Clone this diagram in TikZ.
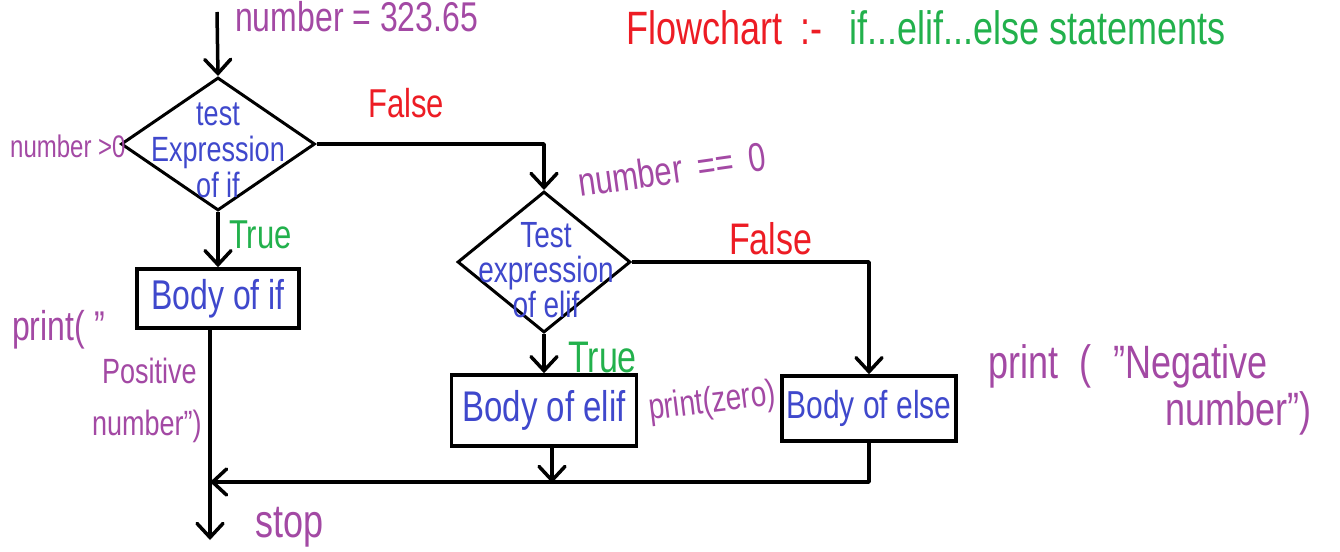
\documentclass[tikz,border=0pt]{standalone}
\usepackage{fontspec}
\setmainfont{Liberation Sans}
\usetikzlibrary{arrows.meta,shapes.geometric}
\definecolor{hwpurple}{RGB}{163,73,164}
\definecolor{hwblue}{RGB}{63,72,204}
\definecolor{hwred}{RGB}{237,28,36}
\definecolor{hwgreen}{RGB}{34,177,76}
\newcommand\hw[1]{\scalebox{1}[1.3]{#1}}
\newcommand\fs[1]{\fontsize{#1}{#1}\selectfont}
\tikzset{
  conn/.style={line width=3.5pt, line join=round},
  arr/.style={conn, -{Straight Barb[length=14pt,width=26pt,line cap=round]}},
  bodybox/.style={draw, line width=3.5pt, rectangle, inner sep=0pt, text=hwblue},
  decision/.style={draw, line width=3pt, diamond, inner sep=0pt},
  dtext/.style={inner sep=0pt, align=center, text=hwblue},
  lbl/.style={inner sep=0pt, anchor=base west},
}
\begin{document}
\begin{tikzpicture}[x=1pt,y=-1pt]
\useasboundingbox (0,0) rectangle (1340,551);
\fill[white] (0,0) rectangle (1340,551);

% decisions
\node[decision, minimum width=194pt, minimum height=133pt] (d1) at (218,144) {};
\node[dtext, font=\fontsize{27}{36}\selectfont] (d1t) at (218,150) {\hw{test}\\\hw{Expression}\\\hw{of if}};
\node[decision, minimum width=173pt, minimum height=141pt] (d2) at (544,262) {};
\node[dtext, font=\fontsize{28}{35}\selectfont] (d2t) at (546,270) {\hw{Test}\\\hw{expression}\\\hw{of elif}};

% bodies
\node[bodybox, minimum width=162pt, minimum height=59pt, font=\fs{32}] (b1) at (218,298.5) {\hw{Body of if}};
\node[bodybox, minimum width=185pt, minimum height=71pt, font=\fs{33}] (b2) at (544,410.5) {\hw{Body of elif}};
\node[bodybox, minimum width=174pt, minimum height=65pt, font=\fs{30}] (b3) at (869,408.5) {\hw{Body of else}};

% free ends
\coordinate (start) at (217,12);
\coordinate (m1) at (210,482);
\coordinate (m2) at (552,483);
\coordinate (stopc) at (210,540);

% connectors
\draw[arr] (start) -- (d1.north);
\draw[arr] (d1.east) -| (d2.north);
\draw[arr] (d1.south) -- (b1.north);
\draw[arr] (d2.east) -| (b3.north);
\draw[arr] (d2.south) -- (b2.north);
\draw[arr] (b2.south -| m2) -- (m2);
\draw[arr] (b3.south) |- (m1);
\draw[arr] (b1.south -| m1) -- (stopc);

% labels
\node[lbl, text=hwpurple, font=\fs{32}] (lnum) at (235,32) {\hw{number = 323.65}};
\node[lbl, text=hwpurple, font=\fs{24}] (lgt) at (10,157) {\hw{number >0}};
\node[lbl, text=hwred, font=\fs{31}] (lf1) at (368,117) {\hw{False}};
\node[lbl, text=hwgreen, font=\fs{31}] (lt1) at (229,248) {\hw{True}};
\node[lbl, text=hwpurple, font=\fs{31}, rotate=8] (leq) at (580,197) {\hw{number\hspace{0.5em}==\hspace{0.5em}0}};
\node[lbl, text=hwred, font=\fs{34}] (lf2) at (729,254) {\hw{False}};
\node[lbl, text=hwgreen, font=\fs{34}] (lt2) at (568,372) {\hw{True}};
\node[lbl, text=hwpurple, font=\fs{28}, rotate=7] (lzero) at (650,420) {\hw{print(zero)}};
\node[lbl, text=hwpurple, font=\fs{32}] (lpos1) at (12,340) {\hw{print(\hspace{0.3em}"}};
\node[lbl, text=hwpurple, font=\fs{27}] (lpos2) at (102,383) {\hw{Positive}};
\node[lbl, text=hwpurple, font=\fs{27}] (lpos3) at (92,435) {\hw{number")}};
\node[lbl, text=hwpurple, font=\fs{36}] (lneg1) at (988,378) {\hw{print\hspace{0.6em}(\hspace{0.6em}"Negative}};
\node[lbl, text=hwpurple, font=\fs{36}] (lneg2) at (1165,425) {\hw{number")}};
\node[lbl, text=hwpurple, font=\fs{36}] (lstop) at (255,537) {\hw{stop}};

% title
\node[lbl, text=hwred, font=\fs{36}] (ttl1) at (626,45) {\hw{Flowchart\hspace{0.5em}:-}};
\node[lbl, text=hwgreen, font=\fs{36}] (ttl2) at (849,45) {\hw{if...elif...else statements}};
\end{tikzpicture}
\end{document}
